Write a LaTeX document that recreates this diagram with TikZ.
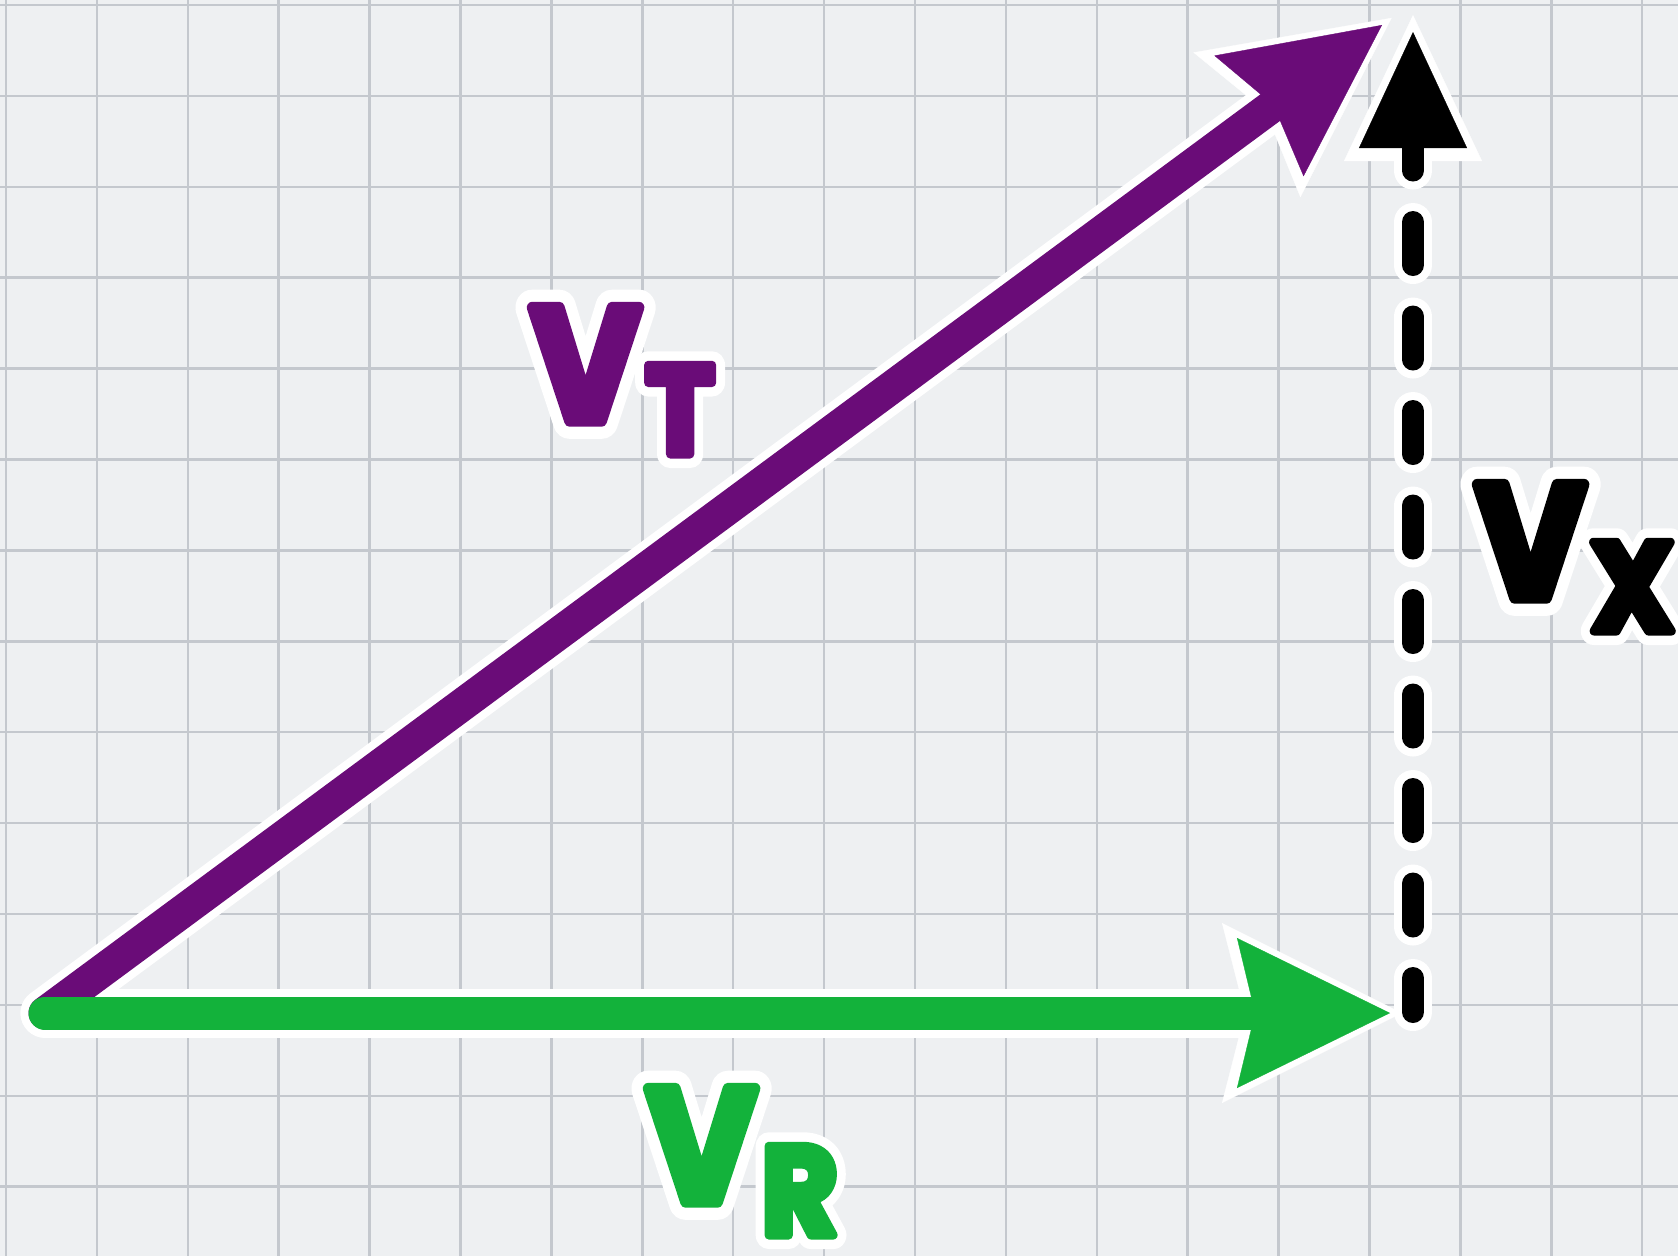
\documentclass[tikz,border=0pt]{standalone}
\usepackage{fontspec}
\usetikzlibrary{arrows.meta,calc}
\newfontfamily\VecFont{Poppins}[UprightFont=* Bold, FakeBold=7]
\newfontfamily\VecHaloFont{Poppins}[UprightFont=* Bold, FakeBold=22]
\definecolor{PaperBg}{HTML}{EEF0F2}
\definecolor{PaperLine}{HTML}{C4C8CE}
\definecolor{VecPurple}{HTML}{6A0C78}
\definecolor{VecGreen}{HTML}{13B23B}
\newcommand{\vsub}[1]{\scalebox{0.93}[1]{\fontsize{46}{52}\selectfont V\kern1.5pt\raisebox{-9.4pt}{\fontsize{36}{42}\selectfont #1}}}
\tikzset{
  gridline/.style={PaperLine, line width=0.25mm},
  halo/.style={white, line width=4.9mm, line cap=round},
  shaft/.style={line width=3.3mm, line cap=round},
  dashes/.style={line cap=round, dash pattern=on 4.3mm off 5.15mm, dash phase=0.9mm},
  vhead/.tip={Stealth[length=15.3mm, width=15mm, inset=1.8mm, line width=0.1pt]},
  vhalo/.tip={Stealth[length=18mm, width=18mm, inset=2.3mm, line width=0.1pt]},
  xhead/.tip={Triangle[length=11.6mm, width=10.8mm, line width=0.1pt]},
  xhalo/.tip={Triangle[length=14.6mm, width=13.8mm, line width=0.1pt]},
  vlabel/.style={anchor=base west, inner sep=0pt, font=\VecFont},
  vlabelhalo/.style={vlabel, white, font=\VecHaloFont}
}
\begin{document}
\begin{tikzpicture}[x=0.1mm, y=-0.1mm]
  % paper
  \fill[PaperBg] (0,0) rectangle (1678,1256);
  \useasboundingbox (0,0) rectangle (1678,1256);
  \foreach \i in {0,...,18}
    \draw[gridline] ({6+90.9*\i},0) -- ++(0,1256);
  \foreach \j in {0,...,13}
    \draw[gridline] (0,{5+90.9*\j}) -- ++(1678,0);

  % end points of the three vectors
  \coordinate (orig) at (45,1013);
  \coordinate (rtip) at (1390,1013);
  \coordinate (ttip) at (1382,25);
  \coordinate (xbase) at (1413,1012);
  \coordinate (xtip) at (1413,32);
  \coordinate (rtipH) at ($(rtip)!-1.2mm!(orig)$);
  \coordinate (ttipH) at ($(ttip)!-1.2mm!(orig)$);
  \coordinate (xtipH) at ($(xtip)!-1.7mm!(xbase)$);

  % white outlines first
  \draw[halo, -{vhalo}] (orig) -- (ttipH);
  \draw[halo, line width=3.8mm, dashes, -{xhalo}] (xbase) -- (xtipH);
  \draw[halo, -{vhalo}] (orig) -- (rtipH);

  % vectors
  \draw[line width=2.2mm, dashes, -{xhead}] (xbase) -- (xtip);
  \draw[shaft, VecPurple, -{vhead}] (orig) -- (ttip);
  \draw[shaft, VecGreen, -{vhead}] (orig) -- (rtip);

  % labels
  \begin{scope}[line join=round]
    \node[vlabelhalo] (lblTh) at (530,421) {\vsub{T}};
    \node[vlabelhalo] (lblXh) at (1475,598) {\vsub{X}};
    \node[vlabelhalo] (lblRh) at (646,1202) {\vsub{R}};
    \node[vlabel, VecPurple] (lblT) at (530,421) {\vsub{T}};
    \node[vlabel, black] (lblX) at (1475,598) {\vsub{X}};
    \node[vlabel, VecGreen] (lblR) at (646,1202) {\vsub{R}};
  \end{scope}
\end{tikzpicture}
\end{document}
